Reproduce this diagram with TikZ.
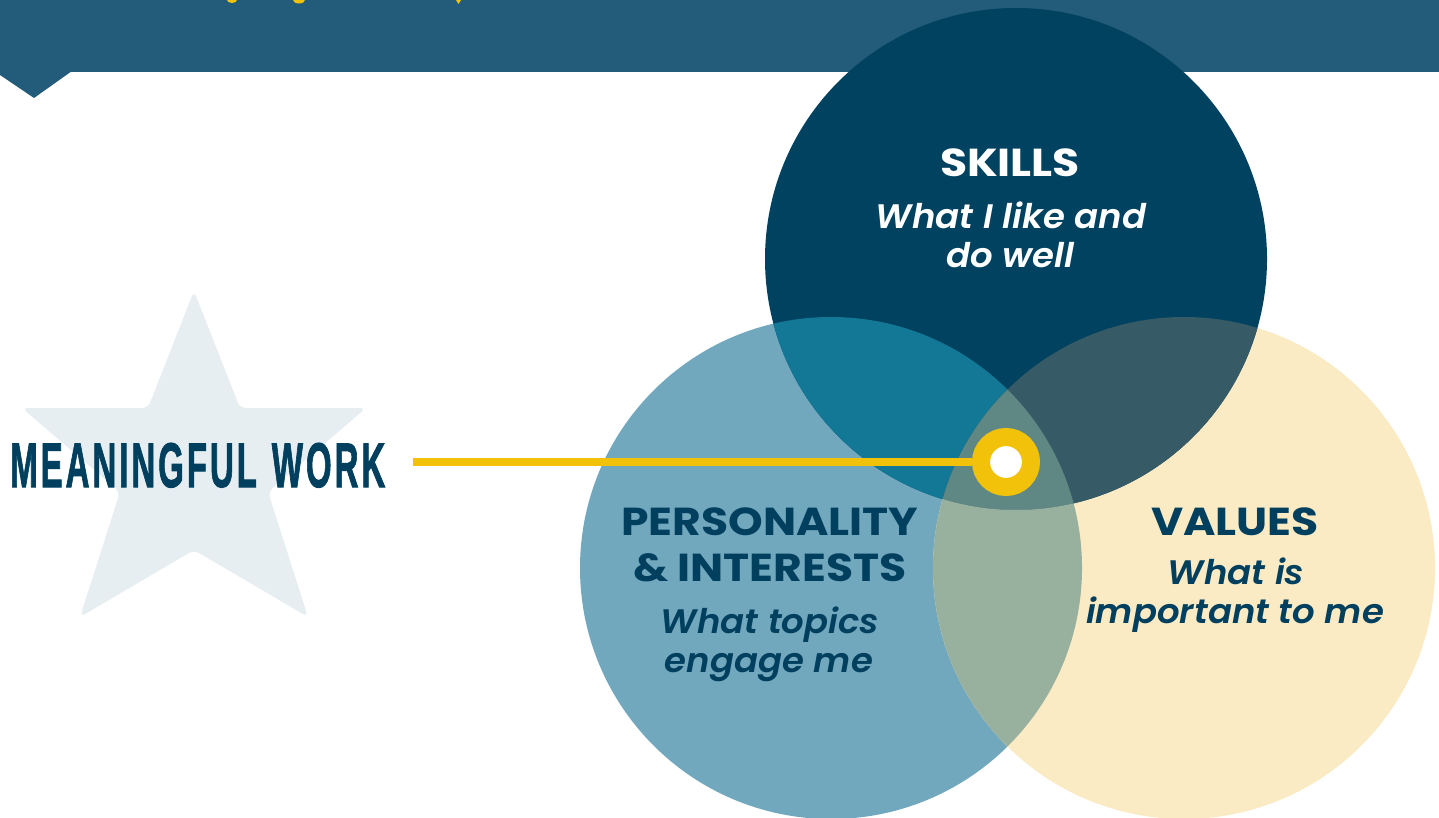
\documentclass[tikz,border=0pt]{standalone}
\usepackage{fontspec}
\usepackage{graphicx}
\setmainfont{Poppins}
\newfontfamily\titlefont{Poppins}[FakeStretch=1.13]
\newfontfamily\semiit{Poppins SemiBold Italic}[FakeStretch=1.045]
\newfontfamily\mwfont{Liberation Sans}[LetterSpace=9, BoldFeatures={FakeBold=1.8}]
\definecolor{banner}{HTML}{235B7A}
\definecolor{navy}{HTML}{00425F}
\definecolor{lblue}{HTML}{72A8BE}
\definecolor{cream}{HTML}{FAEBC5}
\definecolor{spc}{HTML}{127895}
\definecolor{svc}{HTML}{365A66}
\definecolor{pvc}{HTML}{98B09E}
\definecolor{spvc}{HTML}{5F8884}
\definecolor{txt}{HTML}{003F5E}
\definecolor{starc}{HTML}{E6EEF2}
\definecolor{gold}{HTML}{F2C10A}
\begin{document}
\begin{tikzpicture}[x=1pt,y=-1pt,
  title/.style={font=\titlefont\fontsize{39}{46}\selectfont\bfseries, anchor=base, inner sep=0},
  subt/.style={font=\semiit\fontsize{34}{40}\selectfont, anchor=base, inner sep=0},
  ringnode/.style={circle, draw=gold, line width=18pt, fill=white, minimum size=50pt, inner sep=0pt}]
\useasboundingbox (0,0) rectangle (1439,818);
\fill[white] (0,0) rectangle (1439,818);
% banner
\fill[banner] (0,0) rectangle (1439,72);
\fill[banner] (0,71) -- (0,75) -- (34,98) -- (72,71) -- cycle;
% cut-off yellow title glyph bits
\fill[gold] (232,0) ellipse (5 and 3);
\fill[gold] (299,0) ellipse (6 and 3.5);
\fill[gold] (456,0) -- (461,0) -- (458.5,4) -- cycle;
% star
\fill[starc, rounded corners=6pt] (194,291) -- (240,408) -- (366,408) -- (268,492) -- (308,617) -- (194,550) -- (80,617) -- (120,492) -- (22,408) -- (148,408) -- cycle;
% circles
\fill[lblue] (831,568) circle[radius=251];
\fill[cream] (1184,568) circle[radius=251];
\fill[navy] (1016,259) circle[radius=251];
\begin{scope}
  \clip (1016,259) circle[radius=251];
  \fill[spc] (831,568) circle[radius=251];
  \fill[svc] (1184,568) circle[radius=251];
  \clip (831,568) circle[radius=251];
  \fill[spvc] (1184,568) circle[radius=251];
\end{scope}
\begin{scope}
  \clip (831,568) circle[radius=251];
  \clip (1184,568) circle[radius=251];
  \begin{scope}[even odd rule]
    \clip (1016,259) circle[radius=251] (-10,-10) rectangle (1450,830);
    \fill[pvc] (1184,568) circle[radius=251];
  \end{scope}
\end{scope}
% meaningful work
\node[anchor=base west, inner sep=0, text=txt] (mw) at (10,487) {\resizebox{375pt}{44pt}{\mwfont\bfseries MEANINGFUL\hspace{0.45em}WORK}};
\coordinate (ls) at (413,462);
\node[ringnode] (ring) at (1006,462) {};
\draw[gold, line width=8pt] (ls) -- (ring);
% texts
\node[title, text=white] (s1) at (1010,177) {SKILLS};
\node[subt, text=white] (s2) at (1011,229) {What I like and};
\node[subt, text=white] (s3) at (1010,268) {do well};
\node[title, text=txt] (p1) at (770,535) {PERSONALITY};
\node[title, text=txt] (p2) at (770,581) {\& INTERESTS};
\node[subt, text=txt] (p3) at (770,633) {What topics};
\node[subt, text=txt] (p4) at (769,672) {engage me};
\node[title, text=txt] (v1) at (1235,535) {VALUES};
\node[subt, text=txt] (v2) at (1236,584) {What is};
\node[subt, text=txt] (v3) at (1235,623) {important to me};
\end{tikzpicture}
\end{document}
